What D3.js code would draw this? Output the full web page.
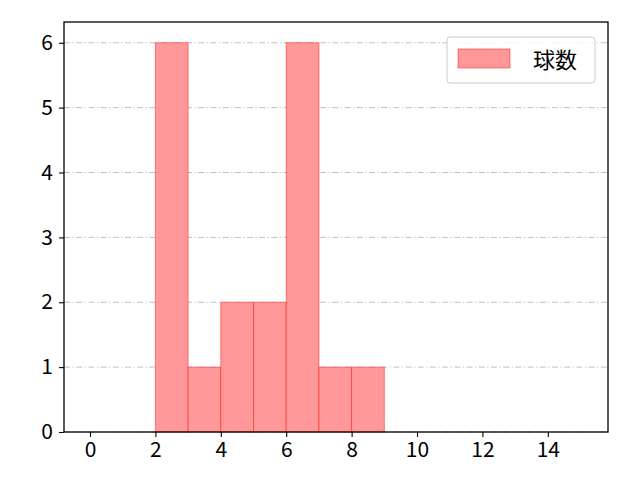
<!DOCTYPE html>
<html>
<head>
<meta charset="utf-8">
<script src="https://cdn.jsdelivr.net/npm/d3@7"></script>
<style>
  body { margin: 0; background: #fff; }
  text { font-family: "Noto Sans CJK JP", "DejaVu Sans", sans-serif; }
</style>
</head>
<body>
<script>
// histogram bins (left edge, right edge) and counts
var binStarts = [2, 3, 4, 5, 6, 7, 8];
var binEnds = [3, 4, 5, 6, 7, 8, 9];
var counts = [6, 1, 2, 2, 6, 1, 1];
var xTicks = [0, 2, 4, 6, 8, 10, 12, 14];
var yTicks = [0, 1, 2, 3, 4, 5, 6];
var seriesName = "球数";

var W = 640, H = 480;
var pLeft = 64, pRight = 608, pTop = 22, pBottom = 432;

var svg = d3.select("body").append("svg")
	.attr("width", W)
	.attr("height", H);

var x = d3.scaleLinear().domain([-0.795, 15.84]).range([pLeft, pRight]);
var y = d3.scaleLinear().domain([0, 6.32]).range([pBottom, pTop]);

// grid
svg.append("g").selectAll("line")
	.data(yTicks)
	.enter().append("line")
	.attr("x1", pLeft).attr("x2", pRight)
	.attr("y1", function(d) { return y(d); })
	.attr("y2", function(d) { return y(d); })
	.attr("stroke", "#b0b0b0")
	.attr("stroke-width", 0.8)
	.attr("stroke-dasharray", "6,2.5,1.2,2.5");

// bars
var bars = binStarts.map(function(s, i) { return {x0: s, x1: binEnds[i], n: counts[i]}; });
svg.append("g").selectAll("rect")
	.data(bars)
	.enter().append("rect")
	.attr("x", function(d) { return x(d.x0); })
	.attr("width", function(d) { return x(d.x1) - x(d.x0); })
	.attr("y", function(d) { return y(d.n); })
	.attr("height", function(d) { return y(0) - y(d.n); })
	.attr("fill", "#ff9999")
	.attr("stroke", "rgba(255,0,0,0.45)")
	.attr("stroke-width", 1);

// axes
var xAxis = svg.append("g")
	.attr("transform", "translate(0," + pBottom + ")")
	.call(d3.axisBottom(x).tickValues(xTicks).tickSize(5).tickPadding(5).tickFormat(d3.format("d")));
var yAxis = svg.append("g")
	.attr("transform", "translate(" + pLeft + ",0)")
	.call(d3.axisLeft(y).tickValues(yTicks).tickSize(5).tickPadding(6).tickFormat(d3.format("d")));

[xAxis, yAxis].forEach(function(a) {
	a.select(".domain").remove();
	a.selectAll(".tick line").attr("stroke", "#000").attr("stroke-width", 1.1);
	a.selectAll(".tick text").attr("font-size", 21).attr("fill", "#000")
		.style("font-family", "'Noto Sans CJK JP', 'DejaVu Sans', sans-serif");
});

// frame
svg.append("rect")
	.attr("x", pLeft).attr("y", pTop)
	.attr("width", pRight - pLeft).attr("height", pBottom - pTop)
	.attr("fill", "none")
	.attr("stroke", "#000")
	.attr("stroke-width", 1.3);

// legend
var lg = svg.append("g").attr("transform", "translate(447,37)");
lg.append("rect")
	.attr("width", 148).attr("height", 46)
	.attr("rx", 3)
	.attr("fill", "rgba(255,255,255,0.8)")
	.attr("stroke", "#cccccc");
lg.append("rect")
	.attr("x", 11).attr("y", 12)
	.attr("width", 52).attr("height", 19)
	.attr("fill", "#ff9999")
	.attr("stroke", "rgba(255,0,0,0.45)");
lg.append("text")
	.attr("x", 86).attr("y", 31)
	.attr("font-size", 22)
	.text(seriesName);
</script>
</body>
</html>
